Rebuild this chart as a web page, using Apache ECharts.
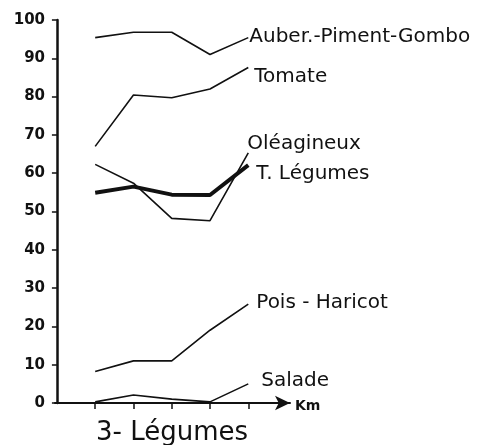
<!DOCTYPE html>
<html>
<head>
<meta charset="utf-8">
<script src="https://cdn.jsdelivr.net/npm/echarts@6/dist/echarts.min.js"></script>
<style>
  html, body { margin: 0; padding: 0; background: #fff; }
  #char { width: 482px; height: 445px; }
</style>
</head>
<body>
<div id="char"></div>
<script>
// distance points (km), values in %
var kmPoints = [1, 2, 3, 4, 5];
var auber = [95.4, 96.8, 96.8, 91.0, 95.4];
var tomate = [67.0, 80.4, 79.7, 82.0, 87.6];
var oleagineux = [62.3, 57.4, 48.2, 47.6, 65.3];
var tLegumes = [54.9, 56.5, 54.4, 54.3, 62.1];
var pois = [8.2, 11.0, 11.0, 19.0, 25.8];
var salade = [0.3, 2.1, 1.0, 0.3, 5.0];

var ink = '#111';
var font = 'DejaVu Sans';

function pairs(vals) {
  var out = [];
  for (var i = 0; i < kmPoints.length; i++) {
    out.push([kmPoints[i], vals[i]]);
  }
  return out;
}

function line(name, vals, width, offset) {
  return {
    name: name,
    type: 'line',
    data: pairs(vals),
    symbol: 'none',
    silent: true,
    lineStyle: { color: ink, width: width },
    endLabel: {
      show: true,
      formatter: name,
      distance: 2,
      offset: offset,
      color: ink,
      fontFamily: font,
      fontSize: 20
    }
  };
}

var myChart = echarts.init(document.getElementById('char'));
var option = {
  animation: false,
  backgroundColor: '#fff',
  title: {
    text: '3- Légumes',
    left: 91,
    top: 415,
    textStyle: { color: ink, fontFamily: font, fontSize: 26, fontWeight: 'normal' }
  },
  grid: { left: 55, top: 20, right: 192, bottom: 42, containLabel: false },
  xAxis: {
    type: 'value',
    min: -0.05,
    max: 6.09,
    splitLine: { show: false },
    axisLine: {
      show: true,
      symbol: ['none', 'arrow'],
      symbolSize: [11, 15],
      lineStyle: { color: ink, width: 2 }
    },
    axisTick: { show: true, customValues: kmPoints, length: 6, lineStyle: { color: ink, width: 1.5 } },
    axisLabel: { show: false }
  },
  yAxis: {
    type: 'value',
    min: 0,
    max: 100,
    interval: 10,
    splitLine: { show: false },
    axisLine: { show: true, lineStyle: { color: ink, width: 2.5 } },
    axisTick: { show: true, length: 5, lineStyle: { color: ink, width: 1.5 } },
    axisLabel: {
      show: true,
      color: ink,
      fontFamily: font,
      fontSize: 15,
      fontWeight: 'bold',
      margin: 10
    }
  },
  graphic: [
    {
      type: 'text',
      left: 295,
      top: 399,
      style: { text: 'Km', fill: ink, font: 'bold 14px DejaVu Sans' }
    }
  ],
  series: [
    line('Auber.-Piment-Gombo', auber, 1.6, [-1, -1]),
    line('Tomate', tomate, 1.6, [4, 9]),
    line('Oléagineux', oleagineux, 1.6, [-3, -9]),
    line('T. Légumes', tLegumes, 4, [6, 9]),
    line('Pois - Haricot', pois, 1.6, [6, -1]),
    line('Salade', salade, 1.6, [11, -3])
  ]
};
myChart.setOption(option);
</script>
</body>
</html>
